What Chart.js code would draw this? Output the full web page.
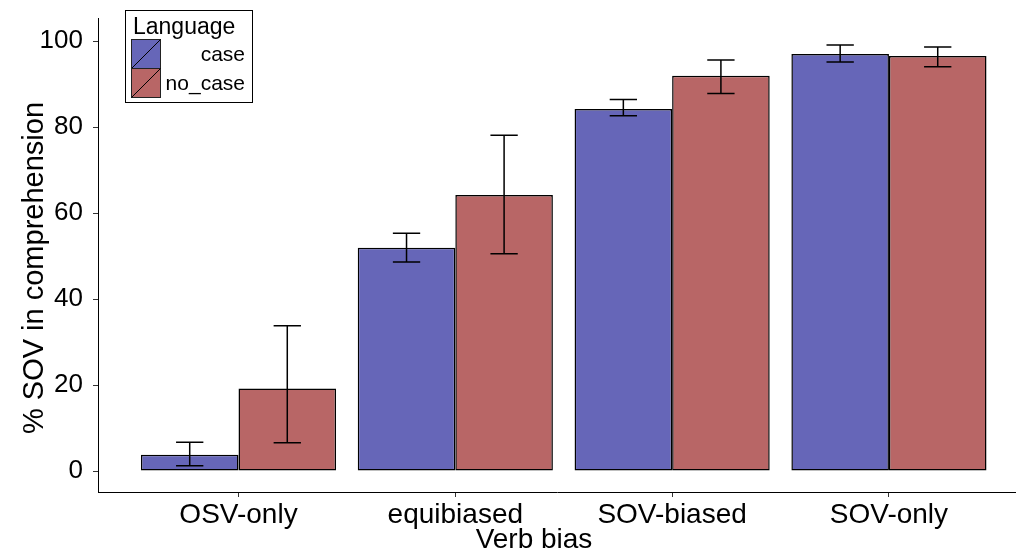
<!DOCTYPE html>
<html lang="en">
<head>
<meta charset="UTF-8">
<title>SOV comprehension</title>
<script src="https://cdn.jsdelivr.net/npm/chart.js"></script>
<style>
    body { margin: 0; background: #fff; }
    #wrap { width: 1016px; height: 553px; position: relative; }
</style>
</head>
<body>
<div id="wrap"><canvas id="grafico"></canvas></div>
<script>
    // dados
    const categorias = ['OSV-only', 'equibiased', 'SOV-biased', 'SOV-only'];
    const yTicks = [0, 20, 40, 60, 80, 100];

    const caseMedia = [3.8, 51.9, 84.2, 97.0];
    const caseMin = [1.2, 48.6, 82.6, 95.1];
    const caseMax = [6.7, 55.3, 86.4, 99.1];

    const noCaseMedia = [19.2, 64.2, 91.9, 96.5];
    const noCaseMin = [6.6, 50.5, 87.8, 94.0];
    const noCaseMax = [33.8, 78.1, 95.6, 98.6];

    const fonte = '"Liberation Sans", Arial, sans-serif';
    const azul = '#6666b8';
    const vermelho = '#b86666';

    function pontos(valores) {
        return valores.map((v, i) => ({ x: i + 1, y: v }));
    }

    // barras de erro desenhadas por cima das barras
    const barrasErro = {
        id: 'barrasErro',
        afterDatasetsDraw(chart) {
            const ctx = chart.ctx;
            const y = chart.scales.y;
            chart.data.datasets.forEach((ds, d) => {
                const meta = chart.getDatasetMeta(d);
                meta.data.forEach((bar, i) => {
                    const top = y.getPixelForValue(ds.erroMax[i]);
                    const bot = y.getPixelForValue(ds.erroMin[i]);
                    const w = bar.width * 0.14;
                    ctx.save();
                    ctx.strokeStyle = '#000';
                    ctx.lineWidth = 1.5;
                    ctx.beginPath();
                    ctx.moveTo(bar.x, top); ctx.lineTo(bar.x, bot);
                    ctx.moveTo(bar.x - w, top); ctx.lineTo(bar.x + w, top);
                    ctx.moveTo(bar.x - w, bot); ctx.lineTo(bar.x + w, bot);
                    ctx.stroke();
                    ctx.restore();
                });
            });
        }
    };

    // legenda no estilo ggplot + titulos dos eixos
    const legendaTitulos = {
        id: 'legendaTitulos',
        afterDraw(chart) {
            const ctx = chart.ctx;
            ctx.save();
            // caixa
            ctx.strokeStyle = '#000';
            ctx.lineWidth = 1;
            ctx.fillStyle = '#fff';
            ctx.fillRect(125.5, 10.5, 127, 92);
            ctx.strokeRect(125.5, 10.5, 127, 92);
            ctx.fillStyle = '#000';
            ctx.font = '23px ' + fonte;
            ctx.textBaseline = 'alphabetic';
            ctx.textAlign = 'left';
            ctx.fillText('Language', 133, 34);
            chart.data.datasets.forEach((ds, d) => {
                const ky = 39 + d * 29;
                ctx.fillStyle = ds.backgroundColor;
                ctx.fillRect(131, ky, 29, 29);
                ctx.strokeStyle = '#222';
                ctx.strokeRect(131.5, ky + 0.5, 29, 29);
                ctx.beginPath();
                ctx.moveTo(131.5, ky + 29.5);
                ctx.lineTo(160.5, ky + 0.5);
                ctx.strokeStyle = '#000';
                ctx.stroke();
                ctx.fillStyle = '#000';
                ctx.font = '21px ' + fonte;
                ctx.textAlign = 'right';
                ctx.fillText(ds.label, 245, ky + 22);
            });
            // titulos
            ctx.font = '28px ' + fonte;
            ctx.textAlign = 'center';
            ctx.fillText('Verb bias', 534, 548);
            ctx.font = '29px ' + fonte;
            ctx.translate(43, 268);
            ctx.rotate(-Math.PI / 2);
            ctx.fillText('% SOV in comprehension', 0, 0);
            ctx.restore();
        }
    };

    new Chart(document.getElementById('grafico'), {
        type: 'bar',
        data: {
            datasets: [{
                label: 'case',
                data: pontos(caseMedia),
                erroMin: caseMin,
                erroMax: caseMax,
                backgroundColor: azul,
                borderColor: '#000',
                borderWidth: 1.5,
                borderSkipped: false
            }, {
                label: 'no_case',
                data: pontos(noCaseMedia),
                erroMin: noCaseMin,
                erroMax: noCaseMax,
                backgroundColor: vermelho,
                borderColor: '#000',
                borderWidth: 1.5,
                borderSkipped: false
            }]
        },
        options: {
            responsive: true,
            maintainAspectRatio: false,
            animation: false,
            categoryPercentage: 0.9,
            barPercentage: 1.0,
            layout: { padding: { top: 18, right: 0, left: 0, bottom: 0 } },
            plugins: {
                legend: { display: false },
                tooltip: { enabled: false }
            },
            scales: {
                x: {
                    type: 'linear',
                    offset: false,
                    min: 0.352,
                    max: 4.586,
                    afterBuildTicks: s => { s.ticks = categorias.map((c, i) => ({ value: i + 1 })); },
                    afterFit: s => { s.height = 61; s.paddingLeft = 0; s.paddingRight = 0; },
                    ticks: {
                        color: '#000',
                        font: { family: fonte, size: 28 },
                        padding: 1,
                        maxRotation: 0,
                        autoSkip: false,
                        callback: v => categorias[v - 1]
                    },
                    grid: { offset: false, drawOnChartArea: false, drawTicks: true, tickLength: 5, color: '#333' },
                    border: { display: true, color: '#000', width: 1 }
                },
                y: {
                    min: -4.88,
                    max: 105.35,
                    afterBuildTicks: s => { s.ticks = yTicks.map(v => ({ value: v })); },
                    afterFit: s => { s.width = 98; s.paddingTop = 0; s.paddingBottom = 0; },
                    ticks: {
                        color: '#000',
                        font: { family: fonte, size: 26 },
                        padding: 10
                    },
                    grid: { drawOnChartArea: false, drawTicks: true, tickLength: 5, color: '#333' },
                    border: { display: true, color: '#000', width: 1 }
                }
            }
        },
        plugins: [barrasErro, legendaTitulos]
    });
</script>
</body>
</html>
